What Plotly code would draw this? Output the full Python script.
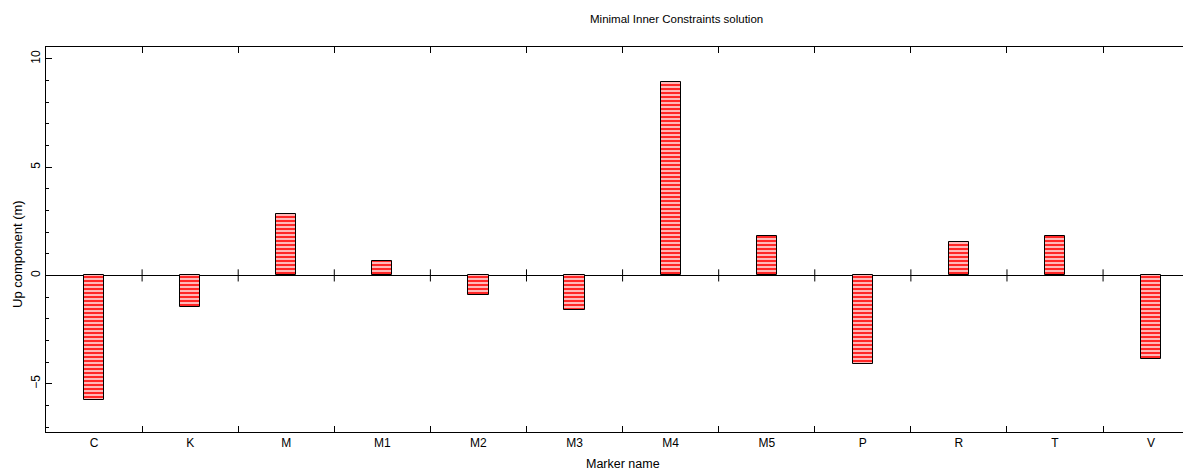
import plotly.graph_objects as go

markers = ["C", "K", "M", "M1", "M2", "M3", "M4", "M5", "P", "R", "T", "V"]
up_component = [-5.74, -1.48, 2.85, 0.66, -0.91, -1.58, 8.94, 1.81, -4.08, 1.53, 1.81, -3.85]
y_ticks = [-5, 0, 5, 10]
y_tick_text = ["\u22125", "0", "5", "10"]

FONT = "Liberation Sans"

# page body has an 8px margin; geometry below compensates for it
OFF = 8
W, H = 1191 - OFF, 474 - OFF
L, R, T, B = 46 - OFF, 0, 47 - OFF, 42
PW, PH = W - L - R, H - T - B


def px_x(x):
    return (x - OFF - L) / PW


def px_y(y):
    return (H - B - (y - OFF)) / PH


fig = go.Figure()
fig.add_trace(go.Bar(
    x=markers,
    y=up_component,
    width=0.21,
    marker=dict(
        color="#ffb3b3",
        line=dict(color="black", width=1),
        pattern=dict(shape="-", size=4, solidity=0.4,
                     fgcolor="red", bgcolor="#ffb8b8", fillmode="replace"),
    ),
    showlegend=False,
))

# small divider ticks crossing the zero line
for k in range(len(markers) - 1):
    fig.add_shape(type="line", xref="x", yref="y",
                  x0=k + 0.5, x1=k + 0.5, y0=-0.28, y1=0.28,
                  line=dict(color="black", width=1))

fig.add_annotation(text="Minimal Inner Constraints solution", xref="paper", yref="paper",
                   x=px_x(676), y=px_y(19), xanchor="center", yanchor="middle",
                   showarrow=False, font=dict(family=FONT, size=11.5, color="black"))
fig.add_annotation(text="Marker name", xref="paper", yref="paper",
                   x=px_x(623), y=px_y(464), xanchor="center", yanchor="middle",
                   showarrow=False, font=dict(family=FONT, size=12.5, color="black"))
fig.add_annotation(text="Up component (m)", xref="paper", yref="paper",
                   x=px_x(17), y=px_y(254), xanchor="center", yanchor="middle",
                   textangle=-90, showarrow=False,
                   font=dict(family=FONT, size=13, color="black"))

fig.update_layout(
    width=W, height=H,
    margin=dict(l=L, r=R, t=T, b=B),
    paper_bgcolor="white", plot_bgcolor="white",
    font=dict(family=FONT, size=12, color="black"),
    bargap=0,
)
fig.update_xaxes(
    type="category", range=[-0.5, 11.415], automargin=False,
    tickson="boundaries", ticks="inside", ticklen=6, tickcolor="black",
    showline=True, linecolor="black", linewidth=1, mirror="ticks",
    showgrid=False, zeroline=False,
    tickfont=dict(family=FONT, size=12),
)
fig.update_yaxes(
    range=[-7.23, 10.545], automargin=False,
    tickvals=y_ticks, ticktext=y_tick_text, tickangle=-90,
    ticks="inside", ticklen=6, tickcolor="black",
    minor=dict(dtick=1, ticks="inside", ticklen=3, tickcolor="black"),
    showline=True, linecolor="black", linewidth=1, mirror=False,
    showgrid=False, zeroline=True, zerolinecolor="black", zerolinewidth=1,
    tickfont=dict(family=FONT, size=12),
)

fig.write_html("out.html")
